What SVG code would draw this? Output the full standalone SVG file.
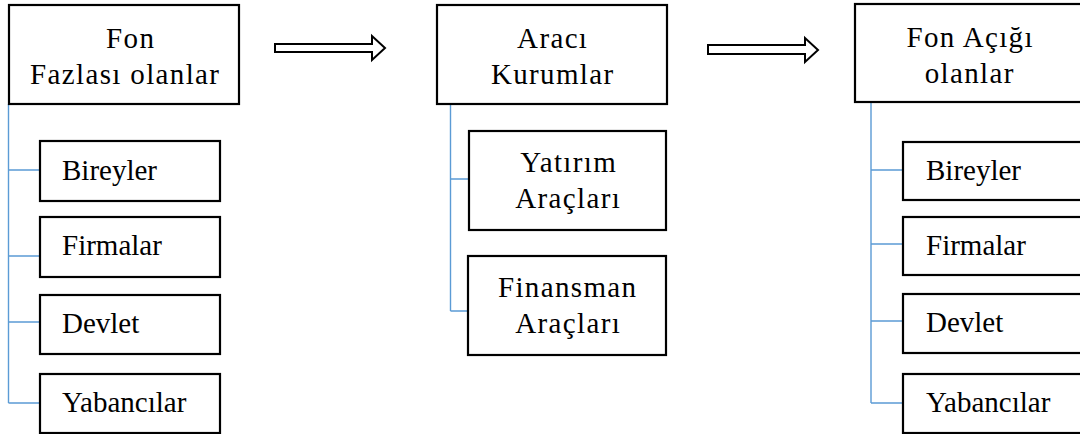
<svg xmlns="http://www.w3.org/2000/svg" width="1080" height="434" viewBox="0 0 1080 434">
<style>
.box{fill:#fff;stroke:#000;stroke-width:2.2}
.t{font-family:"Liberation Serif","Times New Roman",serif;font-size:29px;fill:#000}
.c{text-anchor:middle;letter-spacing:1.35px}
.ln{fill:none;stroke:#5B9BD5;stroke-width:1.4}
.arr{fill:#fff;stroke:#000;stroke-width:2;stroke-linejoin:miter}
</style>
<rect width="1080" height="434" fill="#fff"/>
<g id="connectors">
<path class="ln" d="M8.5 104V403M8.5 170H40M8.5 256H40M8.5 322H40M8.5 403H40"/>
<path class="ln" d="M450.5 104V311M450.5 179H468M450.5 311H468"/>
<path class="ln" d="M871 102V403M871 170H903M871 244H903M871 321H903M871 403H903"/>
<path id="arrow1" class="arr" d="M275 44H372V36L385 48L372 60V52H275Z"/>
<path id="arrow2" class="arr" d="M708 45H805V38L818 50L805 62V54H708Z"/>
</g>
<g id="fon-fazlasi"><rect class="box" x="9" y="5" width="230" height="99"/>
<text class="t c" x="130.7" y="48">Fon</text><text class="t c" x="125.2" y="84">Fazlası olanlar</text></g>
<g id="l-bireyler"><rect class="box" x="40" y="141" width="180" height="60"/><text class="t" x="62" y="180">Bireyler</text></g>
<g id="l-firmalar"><rect class="box" x="40" y="217" width="180" height="60"/><text class="t" x="62" y="255">Firmalar</text></g>
<g id="l-devlet"><rect class="box" x="40" y="295" width="180" height="59"/><text class="t" x="62" y="333">Devlet</text></g>
<g id="l-yabancilar"><rect class="box" x="40" y="374" width="180" height="59"/><text class="t" x="62" y="412">Yabancılar</text></g>
<g id="araci"><rect class="box" x="437" y="5" width="230" height="99"/>
<text class="t c" x="552.7" y="48">Aracı</text><text class="t c" x="552.7" y="84">Kurumlar</text></g>
<g id="yatirim"><rect class="box" x="469" y="131" width="197" height="99"/>
<text class="t c" x="568.7" y="172">Yatırım</text><text class="t c" x="568.2" y="208">Araçları</text></g>
<g id="finansman"><rect class="box" x="468" y="256" width="198" height="99"/>
<text class="t c" x="567.7" y="297">Finansman</text><text class="t c" x="568.2" y="333">Araçları</text></g>
<g id="fon-acigi"><rect class="box" x="855" y="4" width="230" height="98"/>
<text class="t c" x="970.2" y="47">Fon Açığı</text><text class="t c" x="969.7" y="83">olanlar</text></g>
<g id="r-bireyler"><rect class="box" x="903" y="142" width="180" height="58"/><text class="t" x="926" y="180">Bireyler</text></g>
<g id="r-firmalar"><rect class="box" x="903" y="217" width="180" height="58"/><text class="t" x="926" y="255">Firmalar</text></g>
<g id="r-devlet"><rect class="box" x="903" y="294" width="180" height="59"/><text class="t" x="926" y="332">Devlet</text></g>
<g id="r-yabancilar"><rect class="box" x="903" y="374" width="180" height="59"/><text class="t" x="926" y="412">Yabancılar</text></g>
</svg>
